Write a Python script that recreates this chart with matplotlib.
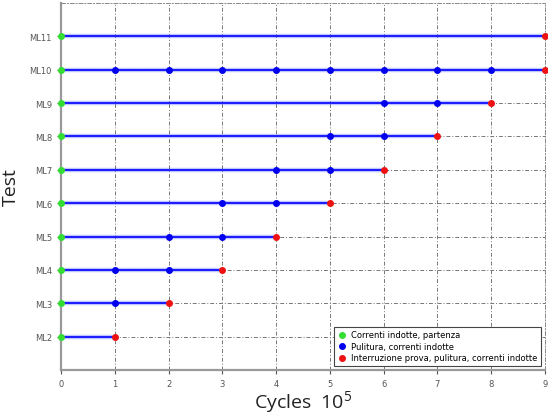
import matplotlib
matplotlib.use('Agg')
import matplotlib.pyplot as plt

plt.rcParams['mathtext.fontset'] = 'custom'
plt.rcParams['mathtext.rm'] = 'Open Sans'

tests = ['ML2', 'ML3', 'ML4', 'ML5', 'ML6', 'ML7', 'ML8', 'ML9', 'ML10', 'ML11']
# start cycles (x 10^5), intermediate stops, end
starts = [0, 0, 0, 0, 0, 0, 0, 0, 0, 0]
middles = [[], [1], [1, 2], [2, 3], [3, 4], [4, 5], [5, 6], [6, 7],
           [1, 2, 3, 4, 5, 6, 7, 8], []]
ends = [1, 2, 3, 4, 5, 6, 7, 8, 9, 9]
legend_labels = ['Correnti indotte, partenza', 'Pulitura, correnti indotte',
                 'Interruzione prova, pulitura, correnti indotte']

fig = plt.figure(figsize=(5.48, 4.14), dpi=100)
ax = fig.add_axes([61 / 548, 43 / 414, 484 / 548, 367 / 414])

ys = list(range(2, 2 + len(tests)))
for y, s, m, e in zip(ys, starts, middles, ends):
    ax.plot([s, e], [y, y], color='#4a5cff', lw=3.2, alpha=0.35, zorder=2, solid_capstyle='butt')
    ax.plot([s, e], [y, y], color='#1a1aff', lw=1.4, zorder=3)
    ax.plot(m, [y] * len(m), 'o', color='#0000ee', ms=4, zorder=4)

ax.plot(starts, ys, 'o', color='#33dd33', ms=4, zorder=5, clip_on=False, label=legend_labels[0])
ax.plot([], [], 'o', color='#0000ee', ms=4, label=legend_labels[1])
ax.plot(ends, ys, 'o', color='#ee1111', ms=4, zorder=5, clip_on=False, label=legend_labels[2])

ax.set_xlim(0, 9)
ax.set_ylim(1, 12)
ax.set_xticks(range(0, 10))
ax.set_yticks(ys)
ax.set_yticklabels(tests)
ax.tick_params(labelsize=6, labelcolor='#555555', length=3, color='#555555')
ax.grid(True, linestyle=(0, (4, 2, 1, 2)), color='#777777', lw=0.7)
for side in ['left', 'bottom']:
    ax.spines[side].set_color('#999999')
    ax.spines[side].set_linewidth(1.6)
for side in ['top', 'right']:
    ax.spines[side].set_color('#888888')
    ax.spines[side].set_linestyle((0, (4, 2, 1, 2)))
    ax.spines[side].set_linewidth(0.7)

ax.set_xlabel('Cycles  $\\mathregular{10^5}$', fontsize=14, family='Open Sans', color='#222222')
ax.set_ylabel('Test', fontsize=14, family='Open Sans', color='#222222')
ax.xaxis.set_label_coords(0.5, -0.05)
ax.yaxis.set_label_coords(-0.085, 0.5)

leg = ax.legend(loc='lower right', fontsize=6, handletextpad=0.6, handlelength=1.0,
                borderpad=0.4, labelspacing=0.3, fancybox=False, framealpha=1,
                edgecolor='#444444', bbox_to_anchor=(1.0, 0.0))
leg.get_frame().set_linewidth(0.8)

fig.savefig('out.png', dpi=100)
